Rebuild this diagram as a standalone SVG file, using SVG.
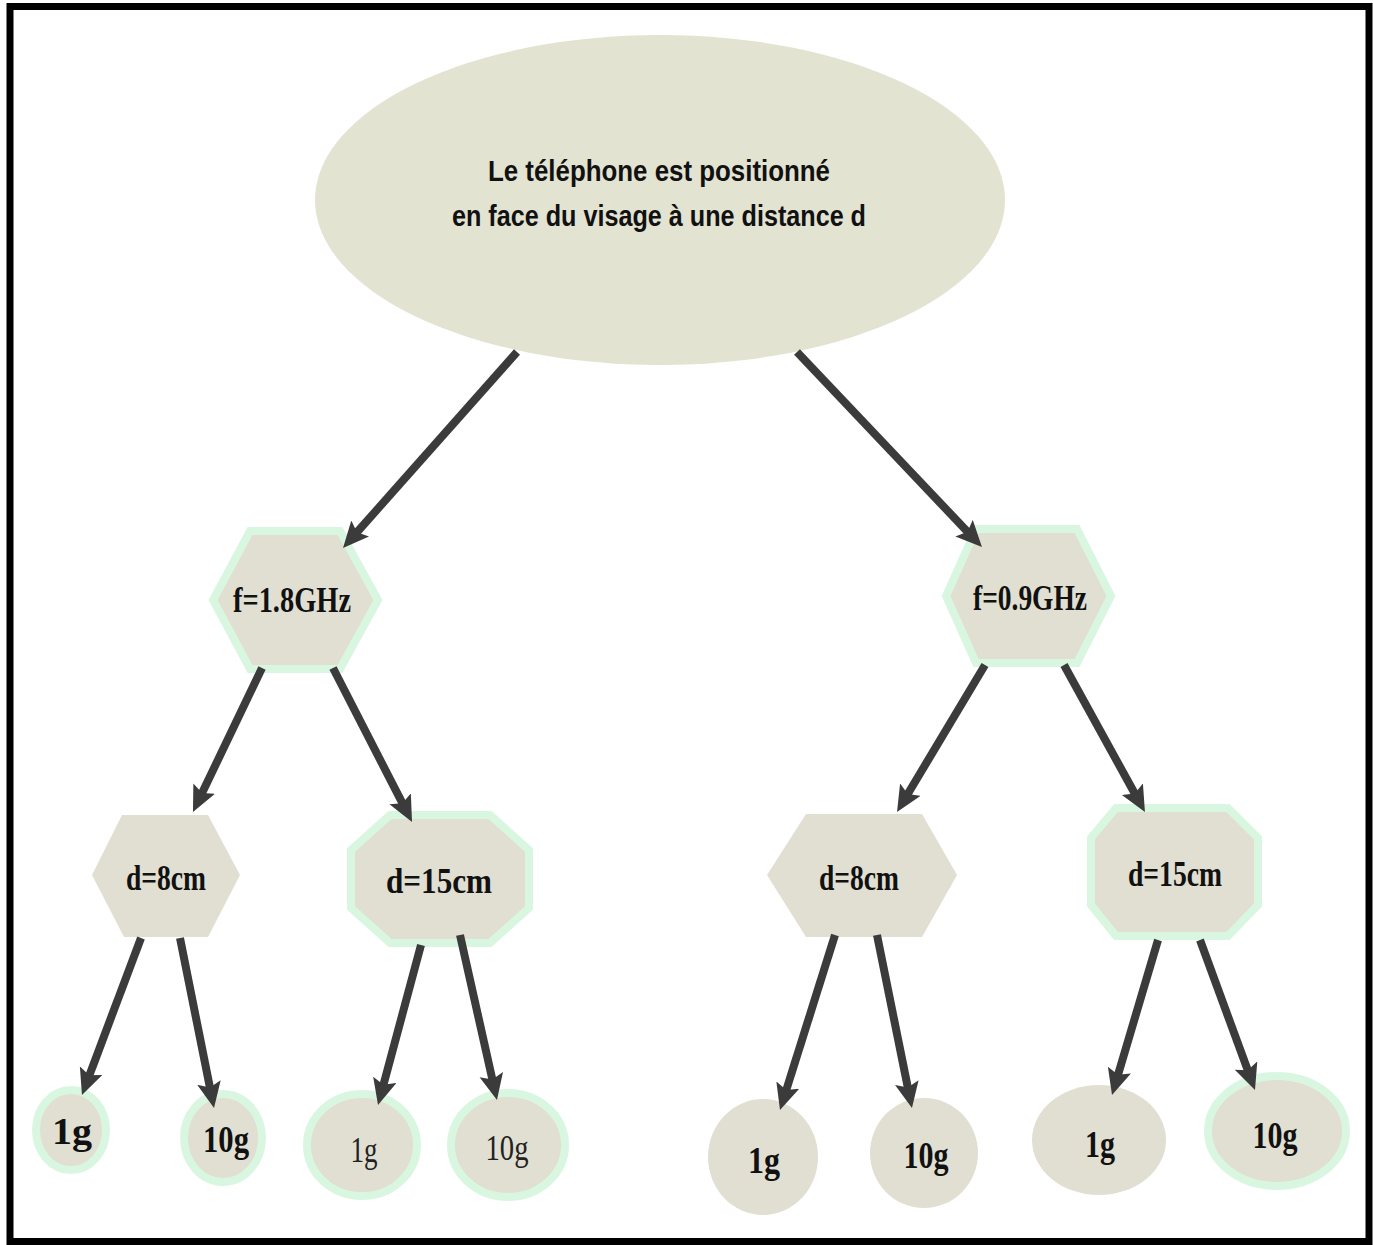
<svg xmlns="http://www.w3.org/2000/svg" width="1373" height="1245" viewBox="0 0 1373 1245">
<defs>
<style>
.frame{fill:#ffffff;stroke:#000000;stroke-width:7}
.node{fill:#e1dfd1}
.root{fill:#e3e3d2}
.glow{fill:#e1dfd1;stroke:#d9f7e0;stroke-width:8}
.conn{stroke:#3b3b3b;stroke-width:8;fill:none;marker-end:url(#ah)}
.t1{font-family:"Liberation Sans",Arial,sans-serif;font-weight:bold;font-size:30px;fill:#111;text-anchor:middle}
.lab{font-family:"Liberation Serif","Times New Roman",serif;font-weight:bold;font-size:36px;fill:#111;text-anchor:middle}
.leaf{font-family:"Liberation Serif","Times New Roman",serif;font-weight:bold;font-size:37px;fill:#111;text-anchor:middle}
.leafn{font-family:"Liberation Serif","Times New Roman",serif;font-size:36px;fill:#222;text-anchor:middle}
</style>
<marker id="ah" markerUnits="userSpaceOnUse" markerWidth="28" markerHeight="26" refX="6" refY="12" orient="auto">
<path d="M0,0 L26,12 L0,24 L5,12 Z" fill="#3b3b3b"/>
</marker>
</defs>
<rect class="frame" x="10" y="6.5" width="1359" height="1235"/>

<g id="root">
<ellipse class="root" cx="660" cy="200" rx="345" ry="165"/>
<text class="t1" x="659" y="181" textLength="342" lengthAdjust="spacingAndGlyphs">Le téléphone est positionné</text>
<text class="t1" x="659" y="226" textLength="414" lengthAdjust="spacingAndGlyphs">en face du visage à une distance d</text>
</g>

<g id="f18">
<polygon class="glow" points="250,531 340,531 378,600 340,669 250,669 213,600"/>
<text class="lab" x="292" y="612" textLength="118" lengthAdjust="spacingAndGlyphs">f=1.8GHz</text>
</g>

<g id="f09">
<polygon class="glow" points="976,529 1077,529 1111,596 1077,663 976,663 946,596"/>
<text class="lab" x="1030" y="610" textLength="114" lengthAdjust="spacingAndGlyphs">f=0.9GHz</text>
</g>

<g id="d8L">
<polygon class="node" points="122,815 208,815 240,875 208,937 124,937 92,875"/>
<text class="lab" x="166" y="890" textLength="80" lengthAdjust="spacingAndGlyphs">d=8cm</text>
</g>

<g id="d15L">
<polygon class="glow" points="390,815 490,815 529,850 529,908 490,943 390,943 351,908 351,850"/>
<text class="lab" x="439" y="893" textLength="106" lengthAdjust="spacingAndGlyphs">d=15cm</text>
</g>

<g id="d8R">
<polygon class="node" points="806,814 922,814 957,875 922,937 806,937 767,875"/>
<text class="lab" x="859" y="890" textLength="80" lengthAdjust="spacingAndGlyphs">d=8cm</text>
</g>

<g id="d15R">
<polygon class="glow" points="1116,808 1228,808 1258,838 1258,905 1228,936 1116,936 1091,905 1091,838"/>
<text class="lab" x="1175" y="886" textLength="94" lengthAdjust="spacingAndGlyphs">d=15cm</text>
</g>

<g id="g1a">
<ellipse class="glow" cx="71" cy="1130" rx="35" ry="40"/>
<text class="leaf" x="72" y="1144" textLength="40" lengthAdjust="spacingAndGlyphs">1g</text>
</g>
<g id="g10a">
<ellipse class="glow" cx="223" cy="1138" rx="39" ry="44"/>
<text class="leaf" x="226" y="1152" textLength="46" lengthAdjust="spacingAndGlyphs">10g</text>
</g>
<g id="g1b">
<ellipse class="glow" cx="362" cy="1145" rx="55" ry="51"/>
<text class="leafn" x="364" y="1162" textLength="27" lengthAdjust="spacingAndGlyphs">1g</text>
</g>
<g id="g10b">
<ellipse class="glow" cx="508" cy="1145" rx="57" ry="52"/>
<text class="leafn" x="507" y="1160" textLength="43" lengthAdjust="spacingAndGlyphs">10g</text>
</g>
<g id="g1c">
<ellipse class="node" cx="763" cy="1157" rx="55" ry="58"/>
<text class="leaf" x="764" y="1173" textLength="32" lengthAdjust="spacingAndGlyphs">1g</text>
</g>
<g id="g10c">
<ellipse class="node" cx="924" cy="1153" rx="54" ry="55"/>
<text class="leaf" x="926" y="1168" textLength="45" lengthAdjust="spacingAndGlyphs">10g</text>
</g>
<g id="g1d">
<ellipse class="node" cx="1099" cy="1140" rx="67" ry="55"/>
<text class="leaf" x="1100" y="1157" textLength="30" lengthAdjust="spacingAndGlyphs">1g</text>
</g>
<g id="g10d">
<ellipse class="glow" cx="1277" cy="1131" rx="69" ry="55"/>
<text class="leaf" x="1275" y="1148" textLength="45" lengthAdjust="spacingAndGlyphs">10g</text>
</g>

<g id="connectors">
<line class="conn" x1="517" y1="352" x2="356.3" y2="533"/>
<line class="conn" x1="797" y1="352" x2="968.2" y2="532.5"/>
<line class="conn" x1="262" y1="668" x2="201.6" y2="794"/>
<line class="conn" x1="333" y1="668" x2="402.9" y2="804.2"/>
<line class="conn" x1="985" y1="665" x2="907.3" y2="794.8"/>
<line class="conn" x1="1064" y1="665" x2="1135.3" y2="794.5"/>
<line class="conn" x1="141" y1="938" x2="89" y2="1076.3"/>
<line class="conn" x1="180" y1="938" x2="210.1" y2="1088.4"/>
<line class="conn" x1="421" y1="945" x2="383.2" y2="1085.7"/>
<line class="conn" x1="460" y1="935" x2="492.6" y2="1080.5"/>
<line class="conn" x1="835" y1="935" x2="786" y2="1090.9"/>
<line class="conn" x1="877" y1="935" x2="908" y2="1088.4"/>
<line class="conn" x1="1158" y1="940" x2="1117.7" y2="1075.8"/>
<line class="conn" x1="1200" y1="940" x2="1248.1" y2="1071.2"/>
</g>
</svg>
